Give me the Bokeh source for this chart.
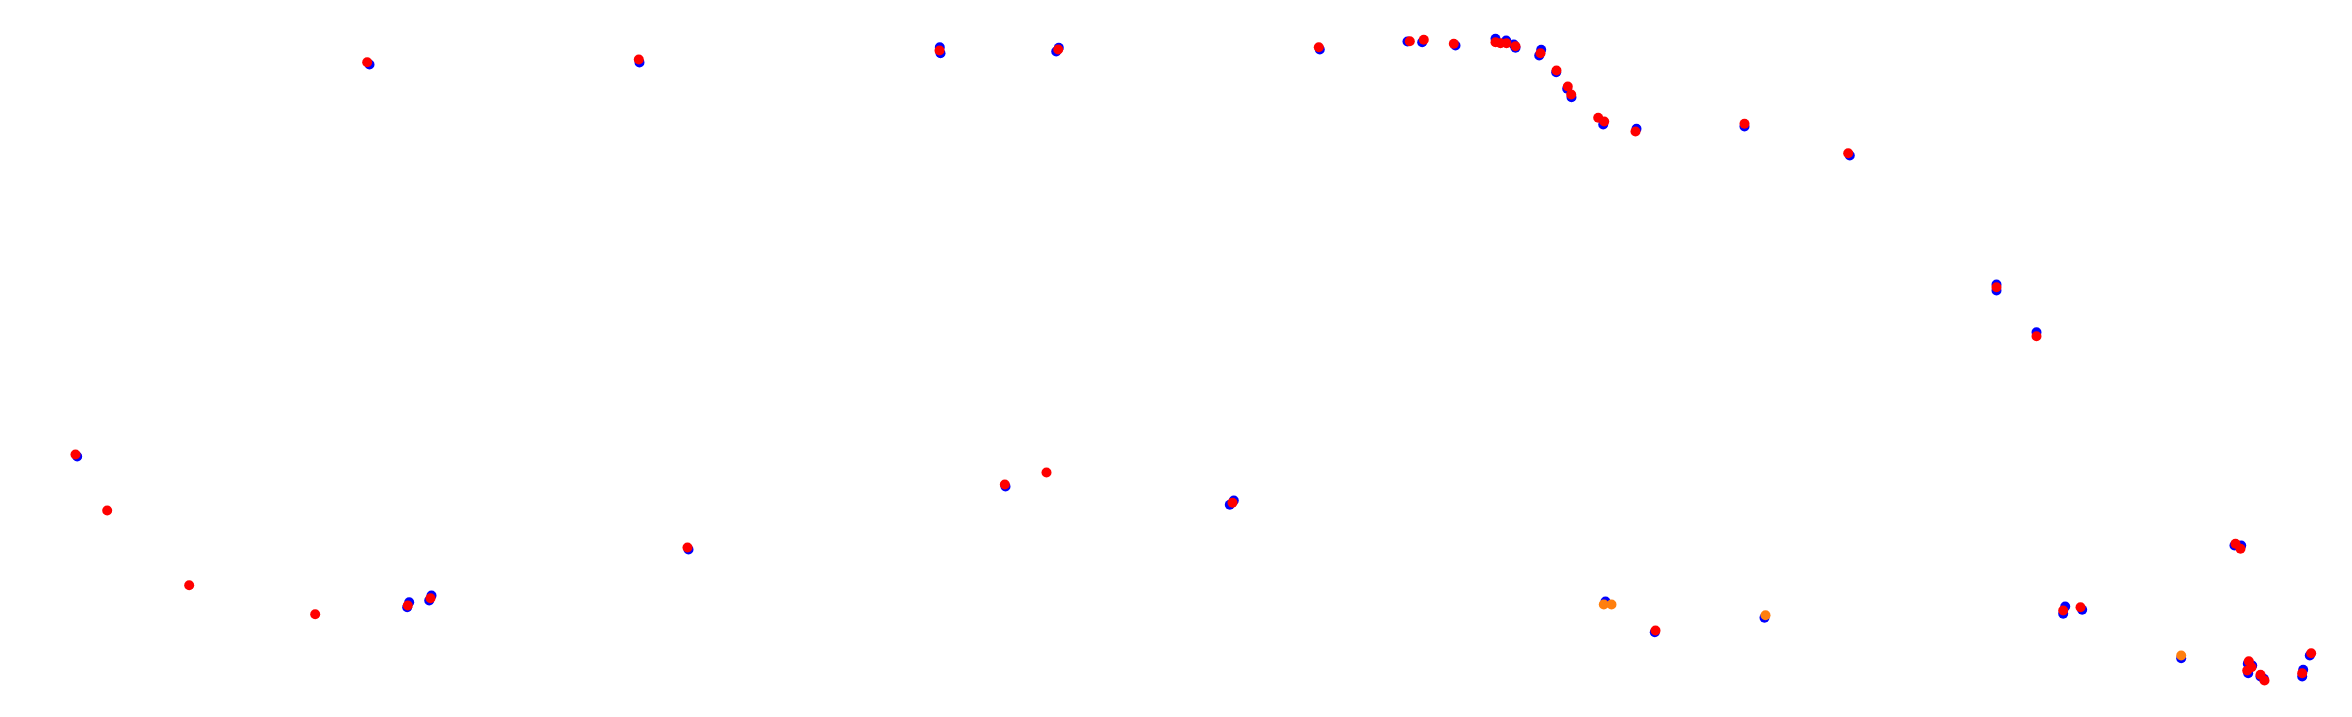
from bokeh.plotting import figure
from bokeh.models import Range1d
from bokeh.embed import file_html
from bokeh.resources import INLINE

# Track positions (x to the right, y downward) for each marker layer
blue_x = [1407, 1421.7, 1455, 1495, 1505.7, 1513.3, 1515, 1540.7, 1538.7, 1555.7, 1566.7, 1571, 1602.7, 1636, 1744,
          2234, 2240.7, 2180.7, 2309.3, 2247.3, 2251.7, 2247.7, 2260, 2263.3, 2302.7, 2301.7,
          1605, 1654.3, 1764,
          369, 639, 939.3, 940, 1058.3, 1055.7,
          76.7, 408.7, 406.7, 431, 428.7,
          1005, 1233.3, 1229.3,
          1996, 1996, 2036,
          2064.7, 2062.7, 2081.7,
          1319.3, 1849.3, 688]
blue_y = [41, 41.7, 45, 38.3, 40, 44, 47.3, 49.3, 55, 71.7, 88.3, 96.7, 124, 128.3, 126,
          545, 545, 657.7, 655, 663.3, 665, 672.7, 676, 678.3, 669.3, 676,
          601, 631.7, 617.3,
          64, 62, 46.7, 52.7, 47.3, 51,
          456, 601.7, 606.7, 595, 600,
          486, 500, 504.3,
          284, 290, 331.7,
          606, 613.3, 609.3,
          49, 155, 549]

red_x = [1409.3, 1423.3, 1453.3, 1495, 1500, 1506, 1515, 1540, 1556, 1567.3, 1570.7, 1597.7, 1603.7, 1635, 1744,
         2235, 2240, 2310.7, 2248.3, 2251, 2246.7, 2260, 2264, 2301.7,
         1655,
         366.7, 638.3, 939, 1057.7,
         75, 106.7, 188.7, 314.7, 407.3, 430,
         1004.3, 1046, 1232,
         1996, 2036,
         2062.7, 2080,
         1318.3, 1847.7, 687]
red_y = [40.7, 39.3, 43.3, 41.7, 42.7, 42.7, 45.7, 52.7, 70, 86, 94, 117.3, 121, 131, 123.3,
         543.3, 548.3, 652.7, 660.7, 666.7, 670, 674.3, 680, 672.7,
         630,
         61.7, 59, 50, 49,
         454, 510, 584.7, 613.7, 605, 597.7,
         484, 472, 502.3,
         286.7, 335.7,
         610, 606.7,
         46.7, 152.7, 547]

orange_x = [2180.7, 1603.3, 1611, 1765]
orange_y = [655, 604, 604, 614.7]

p = figure(width=2352, height=717, output_backend="svg", toolbar_location=None,
           x_range=Range1d(0, 2352), y_range=Range1d(717, 0),
           min_border=0, outline_line_color=None)
p.axis.visible = False
p.grid.visible = False
p.background_fill_color = "white"
p.border_fill_color = "white"

p.scatter(blue_x, blue_y, size=10, fill_color="#0000ff", line_color=None)
p.scatter(orange_x, orange_y, size=10, fill_color="#ff7f0e", line_color=None)
p.scatter(red_x, red_y, size=10, fill_color="#ff0000", line_color=None)

open("out.html", "w").write(file_html(p, INLINE))
